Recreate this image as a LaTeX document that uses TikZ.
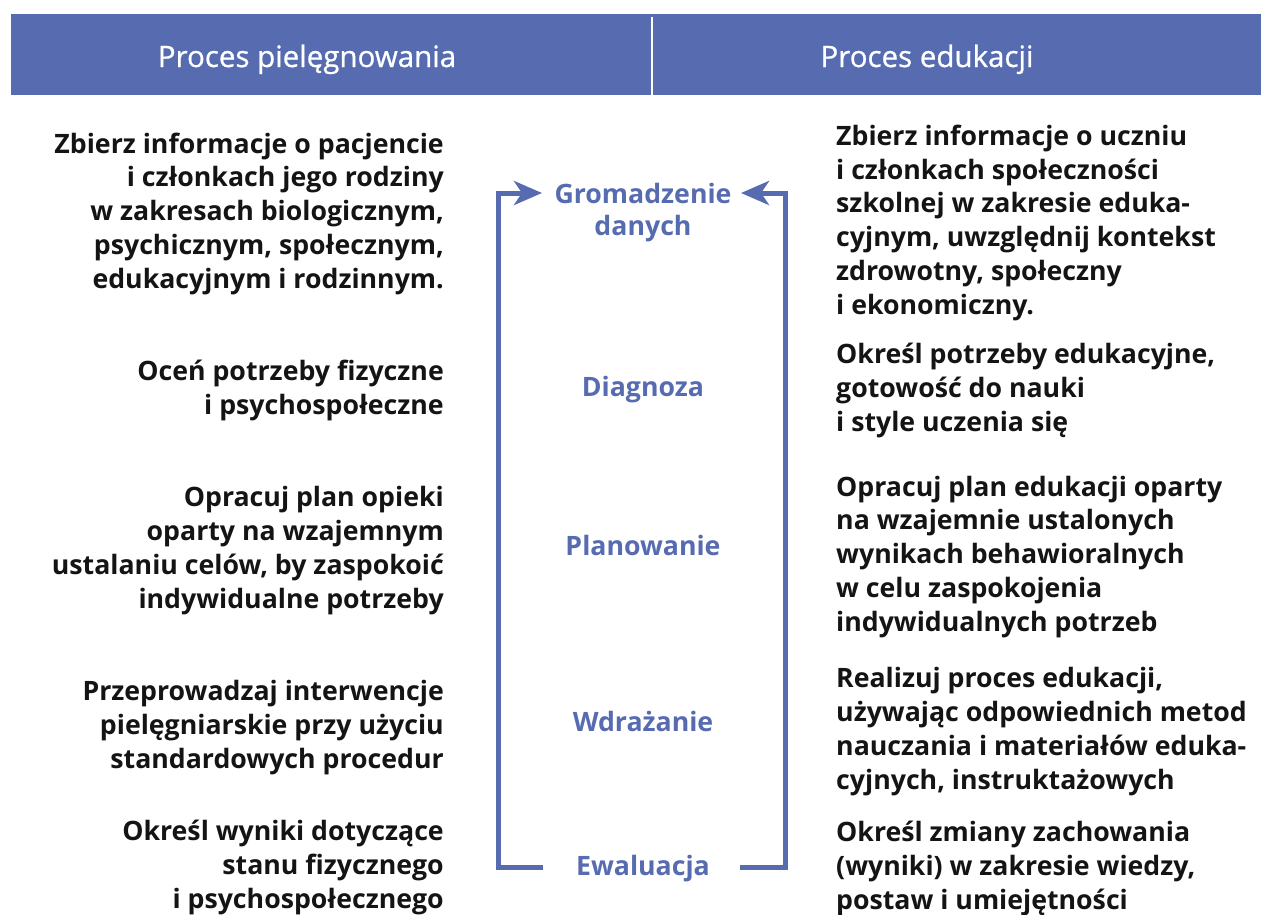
\documentclass[tikz,border=0pt]{standalone}
\usepackage{fontspec}
\setmainfont{Open Sans}
\usetikzlibrary{arrows.meta}
\definecolor{hdr}{RGB}{86,107,176}
\definecolor{txt}{RGB}{20,20,20}
\tikzset{
  leftblk/.style={anchor=base east, align=right, inner sep=0pt, text=txt,
    font=\fontsize{26.7}{33.7}\selectfont\bfseries},
  rightblk/.style={anchor=base west, align=left, inner sep=0pt, text=txt,
    font=\fontsize{26.7}{33.7}\selectfont\bfseries},
  stage/.style={anchor=base, align=center, inner sep=0pt, text=hdr,
    font=\fontsize{26.7}{32}\selectfont\bfseries},
  headtxt/.style={inner sep=0pt, anchor=base, text=white,
    font=\fontsize{29.5}{34}\selectfont\addfontfeature{FakeBold=0.8}},
  flow/.style={draw=hdr, line width=5pt},
  flowarrow/.style={flow, -{Stealth[length=28pt,width=24pt,inset=8pt]}}
}
\begin{document}
\begin{tikzpicture}[x=1pt,y=-1pt]
\useasboundingbox (0,0) rectangle (1261,914);
% header
\fill[hdr] (11,14) rectangle (1261,95);
\draw[white, line width=2pt] (652,17) -- (652,95);
\node[headtxt] (h1) at (307,67) {Proces pielęgnowania};
\node[headtxt] (h2) at (927,67) {Proces edukacji};
% left column (anchor = baseline of last line)
\node[leftblk] (l1) at (444,288) {Zbierz informacje o pacjencie\\i członkach jego rodziny\\w zakresach biologicznym,\\psychicznym, społecznym,\\edukacyjnym i rodzinnym.};
\node[leftblk] (l2) at (444,414) {Oceń potrzeby fizyczne\\i psychospołeczne};
\node[leftblk] (l3) at (444,608) {Opracuj plan opieki\\oparty na wzajemnym\\ustalaniu celów, by zaspokoić\\indywidualne potrzeby};
\node[leftblk] (l4) at (444,768) {Przeprowadzaj interwencje\\pielęgniarskie przy użyciu\\standardowych procedur};
\node[leftblk] (l5) at (444,908) {Określ wyniki dotyczące\\stanu fizycznego\\i psychospołecznego};
% right column
\node[rightblk] (r1) at (836,314) {Zbierz informacje o uczniu\\i członkach społeczności\\szkolnej w zakresie eduka-\\cyjnym, uwzględnij kontekst\\zdrowotny, społeczny\\i ekonomiczny.};
\node[rightblk] (r2) at (836,431) {Określ potrzeby edukacyjne,\\gotowość do nauki\\i style uczenia się};
\node[rightblk] (r3) at (836,631) {Opracuj plan edukacji oparty\\na wzajemnie ustalonych\\wynikach behawioralnych\\w celu zaspokojenia\\indywidualnych potrzeb};
\node[rightblk] (r4) at (836,789) {Realizuj proces edukacji,\\używając odpowiednich metod\\nauczania i materiałów eduka-\\cyjnych, instruktażowych};
\node[rightblk] (r5) at (836,909) {Określ zmiany zachowania\\(wyniki) w zakresie wiedzy,\\postaw i umiejętności};
% middle stages
\node[stage] (grom) at (643,235) {Gromadzenie\\danych};
\node[stage] (diag) at (643,396) {Diagnoza};
\node[stage] (plan) at (643,555) {Planowanie};
\node[stage] (wdr) at (643,731) {Wdrażanie};
\node[stage] (ewal) at (643,875) {Ewaluacja};
% bracket cycle
\coordinate (bls) at (543,867);
\coordinate (bl) at (498,867);
\coordinate (tl) at (498,193);
\coordinate (tla) at (542,193);
\coordinate (brs) at (740,867);
\coordinate (br) at (785,867);
\coordinate (tr) at (785,193);
\coordinate (tra) at (741,193);
\draw[flowarrow] (bls) -- (bl) -- (tl) -- (tla);
\draw[flowarrow] (brs) -- (br) -- (tr) -- (tra);
\end{tikzpicture}
\end{document}
